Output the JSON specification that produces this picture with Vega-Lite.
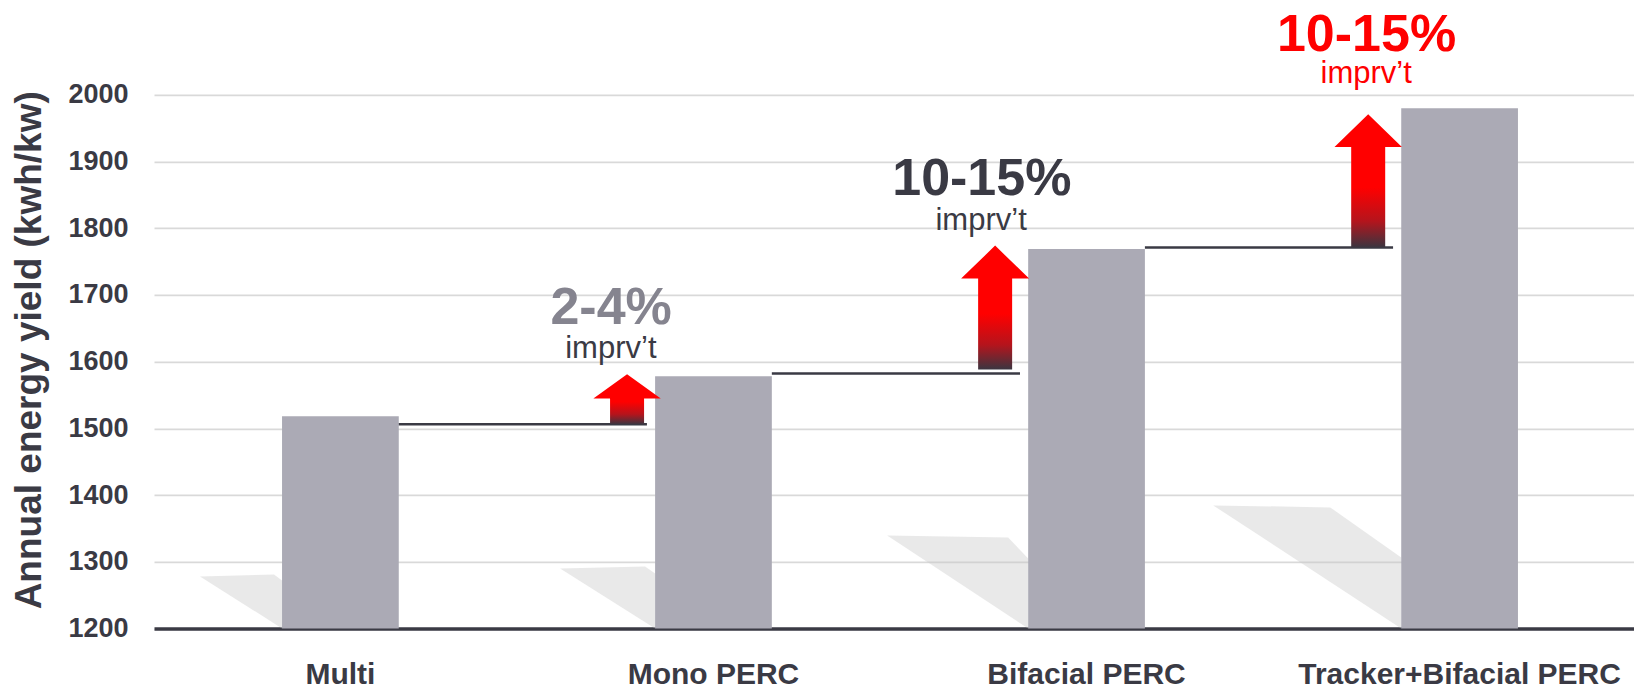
{
  "$schema": "https://vega.github.io/schema/vega-lite/v6.json",
  "autosize": {"type": "none"},
  "padding": {"left": 154, "top": 94.8, "right": 0, "bottom": 61.6},
  "width": 1480,
  "height": 533.6,
  "background": "white",
  "config": {
    "view": {"stroke": null},
    "font": "Liberation Sans",
    "text": {"font": "Liberation Sans"}
  },
  "datasets": {
    "bars": [
      {"cat": "Multi", "yield": 1518},
      {"cat": "Mono PERC", "yield": 1578},
      {"cat": "Bifacial PERC", "yield": 1769},
      {"cat": "Tracker+Bifacial PERC", "yield": 1980}
    ],
    "steps": [
      {"from": "Multi", "to": "Mono PERC", "base": 1506, "pct": "2-4%", "pctAt": 1657, "note": "imprv’t", "noteAt": 1606},
      {"from": "Mono PERC", "to": "Bifacial PERC", "base": 1582, "pct": "10-15%", "pctAt": 1850, "note": "imprv’t", "noteAt": 1797},
      {"from": "Bifacial PERC", "to": "Tracker+Bifacial PERC", "base": 1771, "pct": "10-15%", "pctAt": 2066, "note": "imprv’t", "noteAt": 2017}
    ]
  },
  "resolve": {"scale": {"shape": "independent", "color": "independent"}},
  "layer": [
    {
      "data": {"name": "bars"},
      "mark": {"type": "point", "filled": true, "size": 160000, "color": "#c8c8c8", "opacity": 0.4, "strokeWidth": 0},
      "encoding": {
        "x": {"field": "cat", "type": "nominal", "bandPosition": 0,
              "scale": {"domain": ["Multi", "Mono PERC", "Bifacial PERC", "Tracker+Bifacial PERC"], "range": [0, 1492], "paddingInner": 0.6871, "paddingOuter": 0.3432},
              "axis": {"title": null, "orient": "bottom", "labelAngle": 0, "labelFont": "Liberation Sans", "labelFontSize": 30, "labelFontWeight": "bold", "labelColor": "#3a3a44", "labelBaseline": "alphabetic", "labelPadding": 55, "ticks": false, "tickSize": 0, "domainColor": "#3a3a44", "domainWidth": 3.5, "grid": false, "labelLimit": 0, "labelOverlap": false, "labelBound": false}},
        "y": {"datum": 1200, "type": "quantitative",
              "scale": {"domain": [1200, 2000], "nice": false, "zero": false},
              "axis": {"title": "Annual energy yield (kwh/kw)", "format": "d", "values": [1200, 1300, 1400, 1500, 1600, 1700, 1800, 1900, 2000], "labelFont": "Liberation Sans", "labelFontSize": 27, "labelFontWeight": "bold", "labelColor": "#3a3a44", "labelPadding": 26, "ticks": false, "tickSize": 0, "domain": false, "grid": true, "gridColor": "#d9d9d9", "gridWidth": 1.7, "titleFont": "Liberation Sans", "titleFontSize": 37, "titleFontWeight": "bold", "titleColor": "#3a3a44", "titleX": -114, "titleY": 255, "titleBaseline": "alphabetic", "titleAngle": 270, "titleAlign": "center"}},
        "shape": {"field": "cat", "type": "nominal", "legend": null,
                  "scale": {"domain": ["Multi", "Mono PERC", "Bifacial PERC", "Tracker+Bifacial PERC"],
                            "range": ["M-0.41,-0.26L-0.04,-0.27L0,-0.24L0,0Z", "M-0.475,-0.3L-0.05,-0.31L0,-0.275L0,0Z", "M-0.705,-0.465L-0.1,-0.455L0,-0.35L0,0Z", "M-0.94,-0.615L-0.355,-0.605L0,-0.355L0,0Z"]}}
      }
    },
    {
      "data": {"name": "bars"},
      "mark": {"type": "bar", "color": "#abaab5"},
      "encoding": {
        "x": {"field": "cat", "type": "nominal"},
        "y": {"field": "yield", "type": "quantitative"},
        "y2": {"datum": 1200}
      }
    },
    {
      "data": {"name": "steps"},
      "mark": {"type": "rule", "color": "#3a3a44", "strokeWidth": 2.5},
      "encoding": {
        "x": {"field": "from", "type": "nominal", "bandPosition": 1},
        "x2": {"field": "to", "bandPosition": -0.07},
        "y": {"field": "base", "type": "quantitative"}
      }
    },
    {
      "data": {"name": "steps"},
      "mark": {"type": "point", "filled": true, "opacity": 1, "size": 40000, "strokeWidth": 0,
               "fill": {"gradient": "linear", "x1": 0, "y1": 0, "x2": 0, "y2": 1,
                        "stops": [{"offset": 0, "color": "#ff0000"}, {"offset": 0.55, "color": "#ff0000"}, {"offset": 0.8, "color": "#b5141c"}, {"offset": 1, "color": "#3a3540"}]}},
      "encoding": {
        "x": {"field": "to", "type": "nominal", "bandPosition": -0.283},
        "y": {"field": "base", "type": "quantitative"},
        "shape": {"field": "to", "type": "nominal", "legend": null,
                  "scale": {"domain": ["Mono PERC", "Bifacial PERC", "Tracker+Bifacial PERC"],
                            "range": ["M0.05,-0.5L0.387,-0.257L0.22,-0.257L0.22,0L-0.12,0L-0.12,-0.257L-0.287,-0.257Z", "M0,-1.28L0.34,-0.95L0.17,-0.95L0.17,-0.04L-0.17,-0.04L-0.17,-0.95L-0.34,-0.95Z", "M0,-1.333L0.337,-1.006L0.17,-1.006L0.17,0L-0.17,0L-0.17,-1.006L-0.337,-1.006Z"]}}
      }
    },
    {
      "data": {"name": "steps"},
      "transform": [{"filter": "datum.to === 'Mono PERC'"}],
      "mark": {"type": "text", "font": "Liberation Sans", "fontSize": 52, "fontWeight": "bold", "color": "#85848f", "align": "center", "baseline": "alphabetic"},
      "encoding": {
        "x": {"field": "to", "type": "nominal", "bandPosition": -0.377},
        "y": {"field": "pctAt", "type": "quantitative"},
        "text": {"field": "pct"}
      }
    },
    {
      "data": {"name": "steps"},
      "transform": [{"filter": "datum.to === 'Bifacial PERC'"}],
      "mark": {"type": "text", "font": "Liberation Sans", "fontSize": 52, "fontWeight": "bold", "color": "#3a3a44", "align": "center", "baseline": "alphabetic"},
      "encoding": {
        "x": {"field": "to", "type": "nominal", "bandPosition": -0.397},
        "y": {"field": "pctAt", "type": "quantitative"},
        "text": {"field": "pct"}
      }
    },
    {
      "data": {"name": "steps"},
      "transform": [{"filter": "datum.to === 'Tracker+Bifacial PERC'"}],
      "mark": {"type": "text", "font": "Liberation Sans", "fontSize": 52, "fontWeight": "bold", "color": "#ff0000", "align": "center", "baseline": "alphabetic"},
      "encoding": {
        "x": {"field": "to", "type": "nominal", "bandPosition": -0.297},
        "y": {"field": "pctAt", "type": "quantitative"},
        "text": {"field": "pct"}
      }
    },
    {
      "data": {"name": "steps"},
      "transform": [{"filter": "datum.to === 'Mono PERC'"}],
      "mark": {"type": "text", "font": "Liberation Sans", "fontSize": 31, "color": "#3a3a44", "align": "center", "baseline": "alphabetic"},
      "encoding": {
        "x": {"field": "to", "type": "nominal", "bandPosition": -0.379},
        "y": {"field": "noteAt", "type": "quantitative"},
        "text": {"field": "note"}
      }
    },
    {
      "data": {"name": "steps"},
      "transform": [{"filter": "datum.to === 'Bifacial PERC'"}],
      "mark": {"type": "text", "font": "Liberation Sans", "fontSize": 31, "color": "#3a3a44", "align": "center", "baseline": "alphabetic"},
      "encoding": {
        "x": {"field": "to", "type": "nominal", "bandPosition": -0.403},
        "y": {"field": "noteAt", "type": "quantitative"},
        "text": {"field": "note"}
      }
    },
    {
      "data": {"name": "steps"},
      "transform": [{"filter": "datum.to === 'Tracker+Bifacial PERC'"}],
      "mark": {"type": "text", "font": "Liberation Sans", "fontSize": 31, "color": "#ff0000", "align": "center", "baseline": "alphabetic"},
      "encoding": {
        "x": {"field": "to", "type": "nominal", "bandPosition": -0.3},
        "y": {"field": "noteAt", "type": "quantitative"},
        "text": {"field": "note"}
      }
    }
  ]
}
